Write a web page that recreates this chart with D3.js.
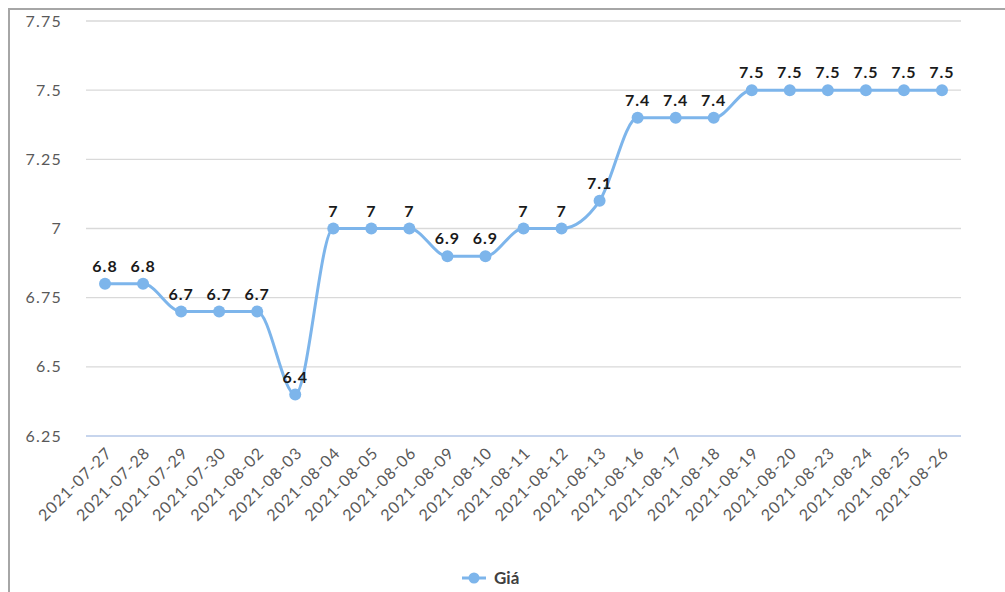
<!DOCTYPE html>
<html>
<head>
<meta charset="utf-8">
<script src="https://cdn.jsdelivr.net/npm/d3@7"></script>
<style>
body{margin:0;background:#fff;}
svg{display:block;font-family:Lato,"Open Sans",sans-serif;}
</style>
</head>
<body>
<svg id="chart" width="1005" height="592"></svg>
<script>
var dates = ["2021-07-27","2021-07-28","2021-07-29","2021-07-30","2021-08-02","2021-08-03","2021-08-04","2021-08-05","2021-08-06","2021-08-09","2021-08-10","2021-08-11","2021-08-12","2021-08-13","2021-08-16","2021-08-17","2021-08-18","2021-08-19","2021-08-20","2021-08-23","2021-08-24","2021-08-25","2021-08-26"];
var prices = [6.8,6.8,6.7,6.7,6.7,6.4,7,7,7,6.9,6.9,7,7,7.1,7.4,7.4,7.4,7.5,7.5,7.5,7.5,7.5,7.5];
var yTicks = [6.25,6.5,6.75,7,7.25,7.5,7.75];
var seriesName = "Giá";

var lineColor = "#7db5eb";
var svg = d3.select("#chart");

// outer frame (runs off the right and bottom edges like the screenshot)
svg.append("rect").attr("x",9).attr("y",9).attr("width",1100).attr("height",700)
  .attr("fill","none").attr("stroke","#a6a6a6").attr("stroke-width",2);

var x = d3.scaleBand().domain(dates).range([86,961]);
var y = d3.scaleLinear().domain([6.25,7.75]).range([436,21]);

// gridlines
svg.append("g").selectAll("line").data(yTicks).enter().append("line")
  .attr("x1",86).attr("x2",961)
  .attr("y1",d=>y(d)).attr("y2",d=>y(d))
  .attr("stroke",d=>d==6.25?"#b4c7e7":"#d9d9d9").attr("stroke-width",1.3);

// y axis labels
var yAxis = d3.axisLeft(y).tickValues(yTicks).tickSize(0).tickPadding(0).tickFormat(d=>String(d));
var gy = svg.append("g").attr("transform","translate(62,0)").call(yAxis);
gy.select(".domain").remove();
gy.selectAll("text").attr("fill","#595959").attr("font-size","16px").attr("font-family","Lato")
  .attr("letter-spacing","1.2px");

// x axis labels
var xAxis = d3.axisBottom(x).tickSize(0).tickPadding(0);
var gx = svg.append("g").attr("transform","translate(0,446)").call(xAxis);
gx.select(".domain").remove();
gx.selectAll("text").attr("fill","#595959").attr("font-size","16px").attr("font-family","Lato")
  .attr("letter-spacing","1px")
  .attr("text-anchor","end").attr("dy","0.7em")
  .attr("transform","rotate(-45)");

var cx = d=>x(d)+x.bandwidth()/2;

var line = d3.line().x((d,i)=>cx(dates[i])).y(d=>y(d)).curve(d3.curveMonotoneX);
svg.append("path").datum(prices).attr("d",line).attr("fill","none")
  .attr("stroke",lineColor).attr("stroke-width",3);

svg.append("g").selectAll("circle").data(prices).enter().append("circle")
  .attr("cx",(d,i)=>cx(dates[i])).attr("cy",d=>y(d)).attr("r",6).attr("fill",lineColor);

svg.append("g").selectAll("text").data(prices).enter().append("text")
  .attr("x",(d,i)=>cx(dates[i])).attr("y",d=>y(d)-12)
  .attr("text-anchor","middle").attr("font-size","16px").attr("font-weight","bold")
  .attr("letter-spacing","1px")
  .attr("fill","#1a1a1a").text(d=>d);

// legend
var lg = svg.append("g").attr("transform","translate(462,578)");
lg.append("line").attr("x1",0).attr("x2",24).attr("stroke",lineColor).attr("stroke-width",3);
lg.append("circle").attr("cx",12).attr("r",5.5).attr("fill",lineColor);
lg.append("text").attr("x",32).attr("dy","0.35em").attr("font-size","17px").attr("font-weight","bold")
  .attr("fill","#404040").text(seriesName);
</script>
</body>
</html>
